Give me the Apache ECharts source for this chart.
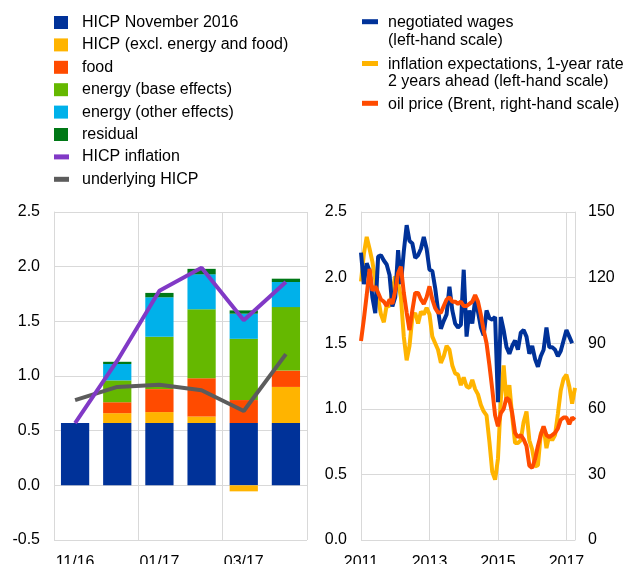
<!DOCTYPE html>
<html>
<head>
<meta charset="utf-8">
<script src="https://cdn.jsdelivr.net/npm/echarts@6/dist/echarts.min.js"></script>
<style>
  html, body { margin: 0; padding: 0; background: #fff; }
  #main { width: 625px; height: 564px; }
</style>
</head>
<body>
<div id="main"></div>
<script>
// left panel: contributions to HICP inflation (pp)
var months = ['11/16', '12/16', '01/17', '02/17', '03/17', '04/17'];
var hicpNov = [0.57, 0.57, 0.57, 0.57, 0.57, 0.57];
var coreHicp = [0, 0.09, 0.10, 0.06, -0.055, 0.33];
var food = [0, 0.10, 0.21, 0.35, 0.21, 0.15];
var energyBase = [0, 0.20, 0.48, 0.63, 0.56, 0.58];
var energyOther = [0, 0.15, 0.36, 0.32, 0.23, 0.23];
var residual = [0, 0.02, 0.04, 0.05, 0.03, 0.03];
var hicpInflation = [0.57, 1.14, 1.78, 1.99, 1.51, 1.86];
var underlying = [0.78, 0.90, 0.92, 0.87, 0.68, 1.20];

// right panel: monthly, Jan 2011 - Apr 2017
var startYear = 2011;
var wages = [2.19, 1.95, 2.11, 2.05, 1.85, 1.73, 2.16, 2.17, 2.13, 2.10, 2.02, 1.78,
             1.85, 2.21, 1.95, 2.20, 2.40, 2.28, 2.26, 2.15, 2.17, 2.22, 2.31, 2.22,
             2.06, 2.05, 1.92, 1.75, 1.61, 1.67, 1.72, 1.93, 1.75, 1.65, 1.62, 1.64,
             2.06, 1.55, 1.75, 1.65, 1.83, 1.74, 1.62, 1.56, 1.75, 1.69, 1.68, 1.70,
             1.05, 1.70, 1.60, 1.47, 1.42, 1.48, 1.52, 1.45, 1.58, 1.60, 1.55, 1.42,
             1.48, 1.38, 1.32, 1.40, 1.45, 1.62, 1.47, 1.47, 1.45, 1.40, 1.44, 1.52,
             1.60, 1.55, 1.50, null];
var inflExp = [1.97, 2.18, 2.31, 2.22, 2.12, 1.98, 1.84, 1.72, 1.66, 1.79, 1.78, 1.90,
               2.01, 1.96, 1.85, 1.55, 1.37, 1.48, 1.70, 1.73, 1.65, 1.74, 1.72, 1.77,
               1.72, 1.55, 1.50, 1.45, 1.35, 1.40, 1.48, 1.45, 1.33, 1.27, 1.26, 1.18,
               1.24, 1.17, 1.16, 1.22, 1.15, 1.11, 1.03, 0.98, 0.95, 0.75, 0.52, 0.46,
               0.62, 1.07, 1.33, 1.05, 1.18, 0.94, 0.74, 0.74, 0.76, 0.90, 0.98, 0.76,
               0.69, 0.56, 0.57, 0.81, 0.86, 0.70, 0.80, 0.76, 0.80, 0.96, 1.14, 1.23,
               1.26, 1.17, 1.04, 1.16];
var oil = [91, 101, 112, 124, 114, 116, 113, 110, 109, 107, 110, 108,
           114, 122, 125, 113, 104, 96, 105, 113, 113, 110, 108, 111,
           116, 110, 106, 104, 104, 107, 110, 111, 109, 109, 108, 109,
           107, 107, 108, 109, 112, 109, 103, 96, 90, 80, 69, 57,
           52, 58, 60, 65, 64, 58, 49, 47, 48, 46, 43, 34,
           33, 37, 43, 48, 52, 48, 47, 48, 49, 51, 55, 56,
           56, 53, 56, 55];

var leftLegend = ['HICP November 2016', 'HICP (excl. energy and food)', 'food',
                  'energy (base effects)', 'energy (other effects)', 'residual',
                  'HICP inflation', 'underlying HICP'];
var leftColors = ['#003299', '#FFB400', '#FF4B00', '#65B800', '#00B1EA', '#007816', '#8139C6', '#5C5C5C'];
var rightLegend = ['negotiated wages\n(left-hand scale)',
                   'inflation expectations, 1-year rate\n2 years ahead (left-hand scale)',
                   'oil price (Brent, right-hand scale)'];
var rightColors = ['#003299', '#FFB400', '#FF4B00'];

var monthCats = [];
for (var i = 0; i < oil.length; i++) {
    monthCats.push((startYear + Math.floor(i / 12)) + '-' + (i % 12 + 1));
}

var FONT = 'Liberation Sans, Arial, sans-serif';
var grey = '#d9d9d9';

function everyOtherYear(idx) {
    return idx % 24 === 0;
}

var graphics = [];
leftLegend.forEach(function (name, k) {
    var cy = 22.5 + k * 22.4;
    var isLine = k >= 6;
    graphics.push({
        type: 'rect',
        shape: isLine ? { x: 54, y: cy - 2.5, width: 15, height: 5 } : { x: 54, y: cy - 6.5, width: 14, height: 13 },
        style: { fill: leftColors[k] }
    });
    graphics.push({
        type: 'text', x: 82, y: cy,
        style: { text: name, fill: '#000', font: '16px ' + FONT, verticalAlign: 'middle' }
    });
});
var rightRows = [21.7, 63.5, 103.3];
rightLegend.forEach(function (name, k) {
    var cy = rightRows[k];
    graphics.push({
        type: 'rect',
        shape: { x: 362, y: cy - 2.5, width: 16, height: 5 },
        style: { fill: rightColors[k] }
    });
    graphics.push({
        type: 'text', x: 388, y: cy - 8,
        style: { text: name, fill: '#000', font: '16px ' + FONT, lineHeight: 17.6, verticalAlign: 'top' }
    });
});

var axisText = { color: '#000', fontSize: 16, fontFamily: FONT };

function bar(name, data, color) {
    return {
        name: name, type: 'bar', stack: 'hicp',
        xAxisIndex: 0, yAxisIndex: 0,
        barWidth: '67%',
        itemStyle: { color: color },
        data: data
    };
}
function line(name, data, color, xi, yi) {
    return {
        name: name, type: 'line',
        xAxisIndex: xi, yAxisIndex: yi,
        symbol: 'none',
        lineStyle: { color: color, width: 4 },
        data: data
    };
}

var chart = echarts.init(document.getElementById('main'));
chart.setOption({
    animation: false,
    backgroundColor: '#fff',
    graphic: graphics,
    grid: [
        { left: 54, top: 212, width: 253, height: 328, containLabel: false, outerBoundsMode: 'none' },
        { left: 361, top: 212, width: 214, height: 328, containLabel: false, outerBoundsMode: 'none' }
    ],
    xAxis: [{
        type: 'category', gridIndex: 0, data: months,
        axisLine: { show: false, onZero: false },
        axisTick: { show: false },
        axisLabel: Object.assign({ interval: 1, margin: 15 }, axisText),
        splitLine: { show: true, interval: 1, lineStyle: { color: grey } }
    }, {
        type: 'category', gridIndex: 1, data: monthCats, boundaryGap: false,
        axisLine: { show: false, onZero: false },
        axisTick: { show: false },
        axisLabel: Object.assign({
            interval: everyOtherYear, margin: 15,
            formatter: function (v) { return v.split('-')[0]; }
        }, axisText),
        splitLine: { show: true, interval: everyOtherYear, lineStyle: { color: grey } }
    }],
    yAxis: [{
        type: 'value', gridIndex: 0, min: -0.5, max: 2.5, interval: 0.5,
        axisLine: { show: true, lineStyle: { color: grey } },
        axisTick: { show: false },
        axisLabel: Object.assign({ margin: 14, formatter: function (v) { return v.toFixed(1); } }, axisText),
        splitLine: { lineStyle: { color: grey } }
    }, {
        type: 'value', gridIndex: 1, min: 0, max: 2.5, interval: 0.5,
        axisLine: { show: true, lineStyle: { color: grey } },
        axisTick: { show: false },
        axisLabel: Object.assign({ margin: 14, formatter: function (v) { return v.toFixed(1); } }, axisText),
        splitLine: { lineStyle: { color: grey } }
    }, {
        type: 'value', gridIndex: 1, position: 'right', min: 0, max: 150, interval: 30,
        axisLine: { show: true, lineStyle: { color: grey } },
        axisTick: { show: false },
        axisLabel: Object.assign({ margin: 13 }, axisText),
        splitLine: { show: false }
    }],
    series: [
        bar(leftLegend[0], hicpNov, leftColors[0]),
        bar(leftLegend[1], coreHicp, leftColors[1]),
        bar(leftLegend[2], food, leftColors[2]),
        bar(leftLegend[3], energyBase, leftColors[3]),
        bar(leftLegend[4], energyOther, leftColors[4]),
        bar(leftLegend[5], residual, leftColors[5]),
        line(leftLegend[7], underlying, leftColors[7], 0, 0),
        line(leftLegend[6], hicpInflation, leftColors[6], 0, 0),
        line('inflation expectations', inflExp, rightColors[1], 1, 1),
        line('negotiated wages', wages, rightColors[0], 1, 1),
        line('oil price', oil, rightColors[2], 1, 2)
    ]
});
</script>
</body>
</html>
